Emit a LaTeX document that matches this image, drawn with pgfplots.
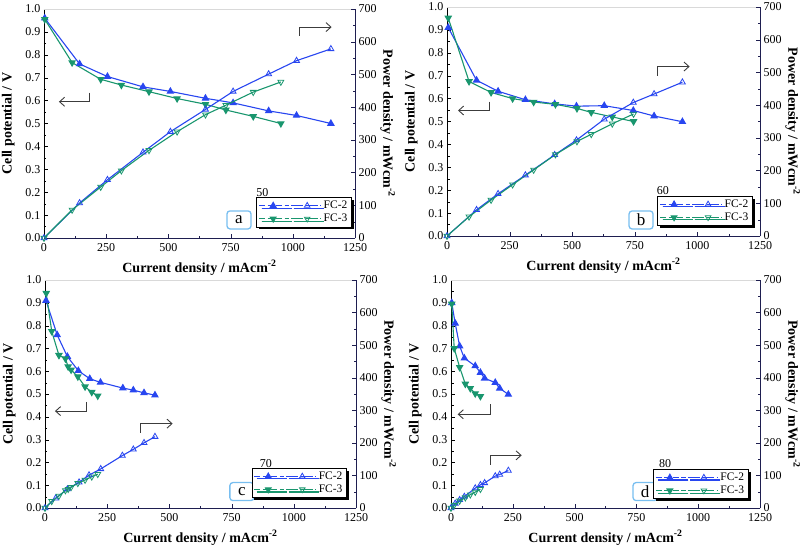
\documentclass[border=0pt]{standalone}
\usepackage{pgfplots}
\pgfplotsset{compat=1.18}
\usepackage{fontspec}
\setmainfont{Liberation Serif}
\usetikzlibrary{arrows.meta,shadows}
\definecolor{fc2}{RGB}{40,70,240}
\definecolor{fc3}{RGB}{25,150,110}
\definecolor{navy}{RGB}{30,30,80}
\definecolor{lblue}{RGB}{120,190,240}
\definecolor{arrgray}{RGB}{60,60,60}
\tikzset{
 arr/.style={draw=arrgray, line width=0.9pt, -{Straight Barb[length=5pt,width=9pt]}},
 lab/.style={draw=lblue, line width=1.3pt, rounded corners=3pt, minimum width=24pt, minimum height=18pt, inner sep=0pt, font=\fontsize{17}{17}\selectfont},
}
\pgfplotsset{
 base/.style={scale only axis, xmin=0, xmax=1250, xtick={0,250,500,750,1000,1250}, minor x tick num=1,
   tick align=inside, tick label style={font=\fontsize{12}{13}\selectfont},
   label style={font=\bfseries\fontsize{14}{15}\selectfont},
   /pgf/number format/assume math mode=true, /pgf/number format/1000 sep={},
   anchor=south west, major tick length=4pt, minor tick length=2.5pt},
 vax/.style={base, axis x line*=bottom, axis y line*=left, ymin=0, ymax=1,
   ytick={0,0.1,0.2,0.3,0.4,0.5,0.6,0.7,0.8,0.9,1.0}, minor y tick num=1,
   yticklabel style={/pgf/number format/.cd, fixed, fixed zerofill, precision=1},
   xticklabel style={yshift=-2pt},
   x axis line style={draw=navy, line width=0.9pt}, y axis line style={draw=black, line width=0.9pt},
   xtick style={navy}, ytick style={black},
   xlabel={Current density / mAcm\textsuperscript{-2}}, ylabel={Cell potential / V},
   xlabel style={yshift=-2pt}, ylabel style={yshift=4pt}},
 pax/.style={base, axis x line=none, axis y line*=right, ymin=0, ymax=700,
   ytick={0,100,200,300,400,500,600,700}, minor y tick num=1,
   y axis line style={draw=navy, line width=0.9pt}, ytick style={navy},
   ylabel={Power density / mWcm\textsuperscript{-2}}, ylabel style={rotate=180, yshift=-3pt},
   legend style={font=\fontsize{11.5}{12}\selectfont, draw=black, fill=white, inner xsep=2pt, inner ysep=1.5pt,
     row sep=0pt, drop shadow={shadow xshift=2.5pt, shadow yshift=-2.5pt, fill=black, opacity=1}},
   legend cell align=left},
 v2/.style={color=fc2, line width=1.1pt, mark=triangle*, mark size=3.4pt, mark options={solid, fill=fc2}},
 v3/.style={color=fc3, line width=1.1pt, mark=triangle*, mark size=3.4pt, mark options={solid, fill=fc3, rotate=180}},
 p2/.style={color=fc2, line width=1.1pt, mark=triangle, mark size=3.4pt, mark options={solid, fill=white, line width=0.8pt}},
 p3/.style={color=fc3, line width=1.1pt, mark=triangle, mark size=3.4pt, mark options={solid, fill=white, rotate=180, line width=0.8pt}},
 leg2/.style={legend image code/.code={
   \draw[fc2, line width=1.1pt, dash pattern=on 6pt off 2.5pt] (0pt,0pt) -- (30pt,0pt);
   \draw[fc2, line width=1.1pt, dash pattern=on 12pt off 2.5pt] (32pt,0pt) -- (62pt,0pt);
   \draw plot[mark=triangle*, mark size=3.2pt, mark options={fc2, fill=fc2, solid}] coordinates {(14pt,0pt)};
   \draw plot[mark=triangle, mark size=3.2pt, mark options={fc2, fill=white, solid, line width=0.8pt}] coordinates {(48pt,0pt)};}},
 leg3/.style={legend image code/.code={
   \draw[fc3, line width=1.1pt, dash pattern=on 6pt off 2.5pt] (0pt,0pt) -- (30pt,0pt);
   \draw[fc3, line width=1.1pt, dash pattern=on 12pt off 2.5pt] (32pt,0pt) -- (62pt,0pt);
   \draw plot[mark=triangle*, mark size=3.2pt, mark options={fc3, fill=fc3, solid, rotate=180}] coordinates {(14pt,0pt)};
   \draw plot[mark=triangle, mark size=3.2pt, mark options={fc3, fill=white, solid, rotate=180, line width=0.8pt}] coordinates {(48pt,0pt)};}},
}
\begin{document}
\begin{tikzpicture}
\useasboundingbox (0pt,0pt) rectangle (808pt,547pt);
%% ---------------- panel a ----------------
\begin{axis}[vax, at={(44pt,309pt)}, width=311pt, height=229pt]
\addplot[v2] coordinates {(3,0.96) (143,0.76) (255,0.705) (398,0.66) (508,0.64) (649,0.61) (760,0.59) (903,0.555) (1015,0.535) (1153,0.50)};
\addplot[v3] coordinates {(3,0.955) (113,0.766) (228,0.693) (311,0.668) (422,0.639) (535,0.609) (649,0.584) (731,0.559) (841,0.531) (952,0.50)};
\draw[black!15] (rel axis cs:0,1) -- (rel axis cs:1,1);
\draw[arr] (axis cs:184,0.635) -- (axis cs:184,0.595) -- (axis cs:60,0.595);
\draw[arr] (axis cs:1026,0.883) -- (axis cs:1026,0.921) -- (axis cs:1156,0.921);
\node[lab] at (rel axis cs:0.627,0.079) {a};
\node[anchor=west, font=\fontsize{12}{12}\selectfont, inner sep=0pt] at (rel axis cs:0.682,0.20) {50};
\end{axis}
\begin{axis}[pax, at={(44pt,309pt)}, width=311pt, height=229pt, legend style={at={(0.989,0.048)}, anchor=south east}]
\addplot[p2, leg2] coordinates {(0,0) (143,107) (255,178) (398,262) (508,325) (649,393) (760,448) (903,501) (1015,542) (1153,578)};
\addlegendentry{FC-2}
\addplot[p3, leg3] coordinates {(0,0) (113,86) (228,156) (311,206) (422,268) (535,325) (649,377) (731,406) (841,446) (952,477)};
\addlegendentry{FC-3}
\end{axis}
%% ---------------- panel b ----------------
\begin{axis}[vax, at={(447pt,311pt)}, width=313pt, height=229pt]
\addplot[v2] coordinates {(5,0.91) (118,0.68) (204,0.632) (313,0.595) (430,0.577) (517,0.567) (628,0.569) (744,0.548) (827,0.524) (940,0.499)};
\addplot[v3] coordinates {(5,0.952) (88,0.675) (176,0.627) (262,0.60) (346,0.585) (433,0.575) (519,0.557) (576,0.540) (660,0.52) (745,0.50)};
\draw[black!15] (rel axis cs:0,1) -- (rel axis cs:1,1);
\draw[arr] (axis cs:171,0.587) -- (axis cs:171,0.548) -- (axis cs:44,0.548);
\draw[arr] (axis cs:840,0.70) -- (axis cs:840,0.74) -- (axis cs:969,0.74);
\node[lab] at (rel axis cs:0.62,0.07) {b};
\node[anchor=west, font=\fontsize{12}{12}\selectfont, inner sep=0pt] at (rel axis cs:0.67,0.197) {60};
\end{axis}
\begin{axis}[pax, at={(447pt,311pt)}, width=313pt, height=229pt, legend style={at={(0.976,0.045)}, anchor=south east}]
\addplot[p2, leg2] coordinates {(0,0) (118,80) (204,129) (313,186) (430,248) (517,293) (628,357) (744,408) (827,434) (940,470)};
\addlegendentry{FC-2}
\addplot[p3, leg3] coordinates {(0,0) (88,59) (176,110) (262,157) (346,202) (433,249) (519,289) (576,311) (660,343) (745,373)};
\addlegendentry{FC-3}
\end{axis}
%% ---------------- panel c ----------------
\begin{axis}[vax, at={(45pt,39pt)}, width=311pt, height=228pt]
\addplot[v2] coordinates {(4,0.91) (49,0.759) (90,0.664) (134,0.602) (180,0.567) (223,0.551) (313,0.526) (355,0.517) (398,0.505) (442,0.495)};
\addplot[v3] coordinates {(5,0.942) (27,0.775) (56,0.67) (82,0.655) (93,0.62) (105,0.606) (132,0.576) (161,0.532) (188,0.508) (212,0.492)};
\draw[black!15] (rel axis cs:0,1) -- (rel axis cs:1,1);
\draw[arr] (axis cs:167,0.466) -- (axis cs:167,0.425) -- (axis cs:40,0.425);
\draw[arr] (axis cs:385,0.329) -- (axis cs:385,0.370) -- (axis cs:513,0.370);
\node[lab] at (rel axis cs:0.633,0.072) {c};
\node[anchor=west, font=\fontsize{12}{12}\selectfont, inner sep=0pt] at (rel axis cs:0.69,0.197) {70};
\end{axis}
\begin{axis}[pax, at={(45pt,39pt)}, width=311pt, height=228pt, legend style={at={(0.97,0.045)}, anchor=south east}]
\addplot[p2, leg2] coordinates {(0,0) (43,30) (90,58) (137,79) (177,101) (224,120) (311,161) (355,180) (398,200) (442,219)};
\addlegendentry{FC-2}
\addplot[p3, leg3] coordinates {(0,0) (27,21) (56,37) (82,54) (93,58) (105,64) (132,76) (161,86) (188,96) (212,104)};
\addlegendentry{FC-3}
\end{axis}
%% ---------------- panel d ----------------
\begin{axis}[vax, at={(451pt,39pt)}, width=309pt, height=228pt]
\addplot[v2] coordinates {(3,0.90) (17,0.81) (35,0.71) (54,0.657) (98,0.623) (119,0.594) (136,0.569) (179,0.55) (197,0.525) (232,0.498)};
\addplot[v3] coordinates {(3,0.895) (13,0.70) (35,0.617) (58,0.544) (78,0.525) (98,0.502) (119,0.49)};
\draw[black!15] (rel axis cs:0,1) -- (rel axis cs:1,1);
\draw[arr] (axis cs:159,0.454) -- (axis cs:159,0.411) -- (axis cs:27,0.411);
\draw[arr] (axis cs:159,0.19) -- (axis cs:159,0.231) -- (axis cs:286,0.231);
\node[lab] at (rel axis cs:0.628,0.072) {d};
\node[anchor=west, font=\fontsize{12}{12}\selectfont, inner sep=0pt] at (rel axis cs:0.673,0.197) {80};
\end{axis}
\begin{axis}[pax, at={(451pt,39pt)}, width=309pt, height=228pt, legend style={at={(0.962,0.04)}, anchor=south east}]
\addplot[p2, leg2] coordinates {(0,0) (17,14) (35,25) (54,35) (98,61) (119,71) (136,77) (179,98) (197,103) (232,115)};
\addlegendentry{FC-2}
\addplot[p3, leg3] coordinates {(0,0) (13,9) (35,22) (58,32) (78,41) (98,49) (119,58)};
\addlegendentry{FC-3}
\end{axis}
\end{tikzpicture}
\end{document}
